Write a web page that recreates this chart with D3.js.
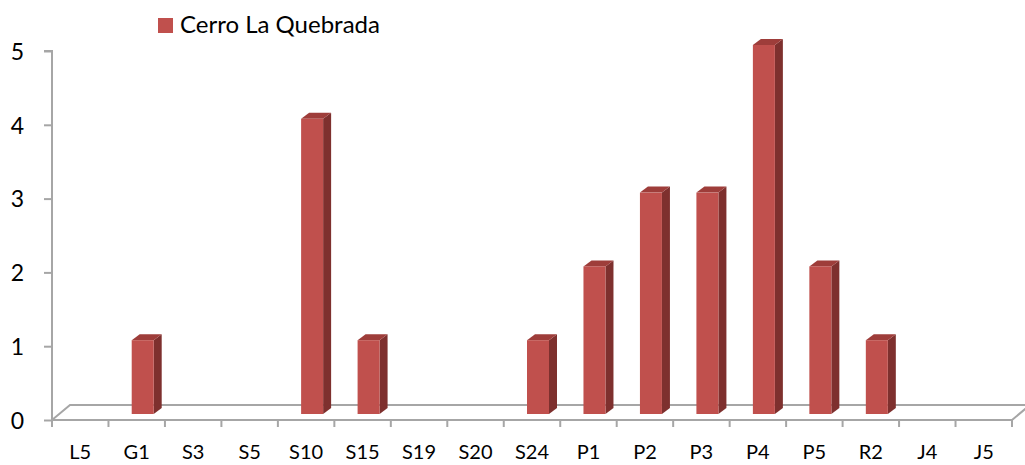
<!DOCTYPE html>
<html>
<head>
<meta charset="utf-8">
<script src="https://cdn.jsdelivr.net/npm/d3@7"></script>
<style>
  html, body { margin: 0; padding: 0; background: #fff; }
  svg { display: block; }
  svg text { font-family: Lato, "Open Sans", sans-serif; }
</style>
</head>
<body>
<svg id="chart" width="1025" height="465"></svg>
<script>
// Sample sites along the x axis
const categories = ["L5", "G1", "S3", "S5", "S10", "S15", "S19", "S20", "S24",
                    "P1", "P2", "P3", "P4", "P5", "R2", "J4", "J5"];
// Counts for the single series
const seriesName = "Cerro La Quebrada";
const values = [0, 1, 0, 0, 4, 1, 0, 0, 1, 2, 3, 3, 5, 2, 1, 0, 0];
const yTicks = [0, 1, 2, 3, 4, 5];

const svg = d3.select("#chart");

const plotLeft = 52, plotRight = 1012, plotBottom = 420, plotTop = 51;
// depth of the 3-D floor and of each bar
const floorDx = 18, floorDy = 15;
const barDx = 8, barDy = 6;
const barShift = 6; // bars stand a little back from the front edge

const x = d3.scaleBand().domain(categories).range([plotLeft, plotRight]).padding(0);
const y = d3.scaleLinear().domain([0, 5]).range([plotBottom, plotTop]);

const gray = "#a6a6a6";

// floor of the 3-D plot
svg.append("path")
  .attr("d", `M${plotLeft},${plotBottom} L${plotLeft + floorDx},${plotBottom - floorDy} L${plotRight + floorDx},${plotBottom - floorDy} L${plotRight},${plotBottom}`)
  .attr("fill", "none")
  .attr("stroke", gray)
  .attr("stroke-width", 2);

// y axis
const yAxis = d3.axisLeft(y).tickValues(yTicks).tickSize(8).tickPadding(20).tickFormat(d3.format("d"));
const gy = svg.append("g").attr("transform", `translate(${plotLeft},0)`).call(yAxis);
gy.attr("font-family", null);
gy.select(".domain").attr("stroke", gray).attr("stroke-width", 2).attr("d", `M-8,${plotTop}H0V${plotBottom}`);
gy.selectAll(".tick line").attr("stroke", gray).attr("stroke-width", 2);
gy.selectAll(".tick text").attr("fill", "#000").style("font-size", "23px").attr("dy", "0.36em");

// x axis: ticks between categories
const gx = svg.append("g").attr("transform", `translate(0,${plotBottom})`);
gx.append("line").attr("x1", plotLeft).attr("x2", plotRight).attr("y1", 0).attr("y2", 0)
  .attr("stroke", gray).attr("stroke-width", 2);
const bounds = categories.map(c => x(c)).concat([plotRight]);
gx.selectAll("line.tk").data(bounds).join("line")
  .attr("class", "tk")
  .attr("x1", d => d).attr("x2", d => d).attr("y1", 0).attr("y2", 7)
  .attr("stroke", gray).attr("stroke-width", 2);
gx.selectAll("text").data(categories).join("text")
  .attr("x", d => x(d) + x.bandwidth() / 2)
  .attr("y", 39)
  .attr("text-anchor", "middle")
  .attr("fill", "#000")
  .style("font-size", "20px")
  .text(d => d);

// 3-D bars
const bw = 22;
const data = categories.map((c, i) => ({ c, v: values[i] })).filter(d => d.v > 0);
const bars = svg.append("g");
data.forEach(d => {
  const x0 = x(d.c) + x.bandwidth() / 2 - bw / 2 + barShift;
  const x1 = x0 + bw;
  const yb = y(0) - barShift;
  const yt = y(d.v) - barShift;
  const g = bars.append("g");
  // side face
  g.append("path")
    .attr("d", `M${x1},${yb} L${x1 + barDx},${yb - barDy} L${x1 + barDx},${yt - barDy} L${x1},${yt} Z`)
    .attr("fill", "#7e302e");
  // top face
  g.append("path")
    .attr("d", `M${x0},${yt} L${x0 + barDx},${yt - barDy} L${x1 + barDx},${yt - barDy} L${x1},${yt} Z`)
    .attr("fill", "#9e3d3a");
  // front face
  g.append("rect")
    .attr("x", x0).attr("y", yt).attr("width", bw).attr("height", yb - yt)
    .attr("fill", "#c0504d");
});

// legend
const lg = svg.append("g").attr("transform", "translate(158,18)");
lg.append("rect").attr("width", 15).attr("height", 15).attr("fill", "#c0504d");
lg.append("text").attr("x", 22).attr("y", 15).attr("fill", "#000")
  .style("font-size", "24px").text(seriesName);
</script>
</body>
</html>
